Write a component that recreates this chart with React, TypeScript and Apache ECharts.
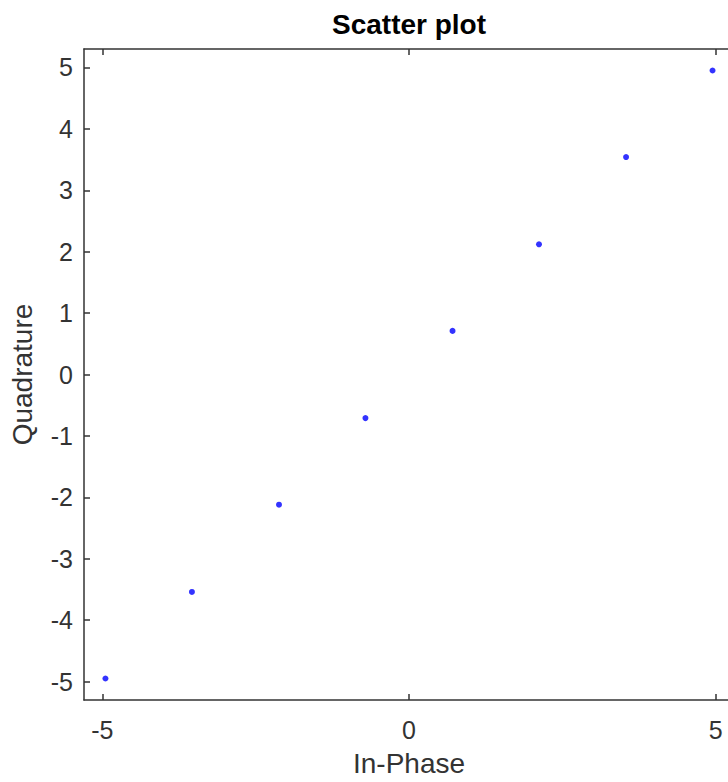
import React, { useEffect, useRef } from "react";
import * as echarts from "echarts";

const inPhase = [-4.95, -3.54, -2.12, -0.71, 0.71, 2.12, 3.54, 4.95];
const quadrature = [-4.95, -3.54, -2.12, -0.71, 0.71, 2.12, 3.54, 4.95];
const xTicks = [-5, 0, 5];
const yTicks = [-5, -4, -3, -2, -1, 0, 1, 2, 3, 4, 5];
const axisMin = -5.3;
const axisMax = 5.3;

const FONT = "'Liberation Sans', Arial, Helvetica, sans-serif";
const AXIS_COLOR = "#333333";
const TEXT_COLOR = "#333333";

export default function App() {
  const ref = useRef<HTMLDivElement>(null);
  useEffect(() => {
    if (!ref.current) return;
    const chart = echarts.init(ref.current, undefined, { renderer: "svg" });
    const lineStyle = { color: AXIS_COLOR, width: 1.5 };
    const tickStyle = { color: AXIS_COLOR, width: 1.5 };
    chart.setOption({
      animation: false,
      backgroundColor: "#ffffff",
      graphic: [
        {
          type: "text",
          x: 409,
          y: 10,
          style: {
            text: "Scatter plot",
            textAlign: "center",
            textVerticalAlign: "top",
            fontFamily: FONT,
            fontSize: 28,
            fontWeight: "bold",
            fill: "#000000",
          },
        },
      ],
      grid: { left: 84, top: 49, width: 650, height: 651, outerBoundsMode: "none", containLabel: false },
      xAxis: [
        {
          type: "value",
          position: "bottom",
          min: axisMin,
          max: axisMax,
          name: "In-Phase",
          nameLocation: "middle",
          nameGap: 49,
          nameTextStyle: { fontFamily: FONT, fontSize: 28, color: TEXT_COLOR },
          axisLine: { show: true, onZero: false, lineStyle },
          axisTick: { show: true, inside: true, length: 6, lineStyle: tickStyle, customValues: xTicks },
          axisLabel: { show: true, margin: 17, fontFamily: FONT, fontSize: 25, color: TEXT_COLOR, customValues: xTicks },
          splitLine: { show: false },
        },
        {
          type: "value",
          position: "top",
          min: axisMin,
          max: axisMax,
          axisLine: { show: true, onZero: false, lineStyle },
          axisTick: { show: true, inside: true, length: 6, lineStyle: tickStyle, customValues: xTicks },
          axisLabel: { show: false },
          splitLine: { show: false },
        },
      ],
      yAxis: [
        {
          type: "value",
          position: "left",
          min: axisMin,
          max: axisMax,
          name: "Quadrature",
          nameLocation: "middle",
          nameRotate: 90,
          nameGap: 48,
          nameTextStyle: { fontFamily: FONT, fontSize: 28, color: TEXT_COLOR },
          axisLine: { show: true, onZero: false, lineStyle },
          axisTick: { show: true, inside: true, length: 6, lineStyle: tickStyle, customValues: yTicks },
          axisLabel: { show: true, margin: 11, fontFamily: FONT, fontSize: 25, color: TEXT_COLOR, customValues: yTicks },
          splitLine: { show: false },
        },
        {
          type: "value",
          position: "right",
          min: axisMin,
          max: axisMax,
          axisLine: { show: true, onZero: false, lineStyle },
          axisTick: { show: true, inside: true, length: 6, lineStyle: tickStyle, customValues: yTicks },
          axisLabel: { show: false },
          splitLine: { show: false },
        },
      ],
      series: [
        {
          type: "scatter",
          xAxisIndex: 0,
          yAxisIndex: 0,
          symbol: "circle",
          symbolSize: 6,
          itemStyle: { color: "#0000ff" },
          data: inPhase.map((x, i) => [x, quadrature[i]]),
        },
      ],
    });
    return () => chart.dispose();
  }, []);
  return (
    <div
      ref={ref}
      style={{ position: "absolute", left: 0, top: 0, width: 728, height: 782, background: "#fff" }}
    />
  );
}
